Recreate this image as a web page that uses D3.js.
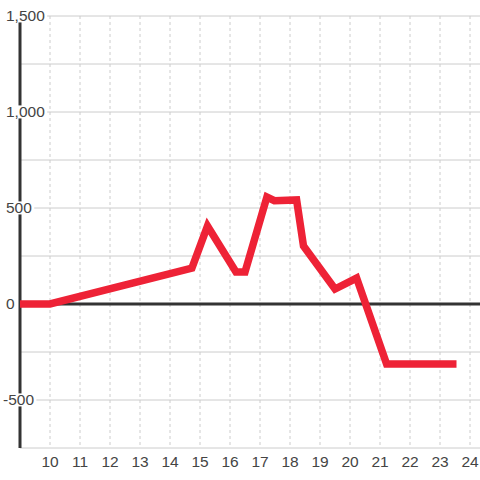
<!DOCTYPE html>
<html><head><meta charset="utf-8">
<script src="https://cdn.jsdelivr.net/npm/d3@7"></script>
<style>body{margin:0;background:#fff}svg{display:block}text{font-family:"Liberation Sans",Arial,sans-serif}</style>
</head><body><svg id="c" width="480" height="480"></svg>
<script>
const hours = [9, 10, 14.73, 15.25, 16.2, 16.5, 17.23, 17.48, 18.22, 18.45, 19.5, 20.22, 21.22, 23.55];
const values = [0, 0, 187, 406, 167, 167, 557, 538, 542, 302, 78, 135, -312, -312];
const yTicks = [-500, 0, 500, 1000, 1500];
const xTicks = [10, 11, 12, 13, 14, 15, 16, 17, 18, 19, 20, 21, 22, 23, 24];

const svg = d3.select("#c");
const x = d3.scaleLinear().domain([9, 24.3333]).range([20, 480]);
const y = d3.scaleLinear().domain([-750, 1500]).range([448, 16]);

svg.append("g").selectAll("line").data(xTicks).join("line")
  .attr("x1", d => x(d)).attr("x2", d => x(d)).attr("y1", y(1500)).attr("y2", y(-750))
  .attr("stroke", "#cccccc").attr("stroke-dasharray", "3,3");
svg.append("g").selectAll("line").data(d3.range(-750, 1501, 250)).join("line")
  .attr("x1", x(9)).attr("x2", 480).attr("y1", d => y(d)).attr("y2", d => y(d))
  .attr("stroke", "#cccccc").attr("stroke-width", 1);
svg.append("line").attr("x1", x(9)).attr("x2", x(9)).attr("y1", y(1500)).attr("y2", y(-750))
  .attr("stroke", "#333").attr("stroke-width", 3);
svg.append("line").attr("x1", x(9)).attr("x2", 480).attr("y1", y(0)).attr("y2", y(0))
  .attr("stroke", "#333").attr("stroke-width", 3);

const fmt = d3.format(",");
const yl = svg.append("g").selectAll("g").data(yTicks).join("g")
  .attr("transform", d => `translate(${d < 0 ? 3 : 6},${y(d)})`);
yl.append("text").attr("dy", "0.35em").attr("font-size", 15.5).attr("fill", "#444")
  .text(d => d < 0 ? "-" + fmt(-d) : fmt(d))
  .each(function () {
    const b = this.getBBox();
    d3.select(this.parentNode).insert("rect", "text")
      .attr("x", b.x - 1).attr("y", b.y + 2).attr("width", b.width + 3).attr("height", b.height - 4)
      .attr("fill", "#fff");
  });

svg.append("g").selectAll("text").data(xTicks).join("text")
  .attr("x", d => x(d)).attr("y", 467).attr("text-anchor", "middle")
  .attr("font-size", 15.5).attr("fill", "#444").text(d => d);

const line = d3.line().x((d, i) => x(hours[i])).y(d => y(d));
svg.append("path").attr("d", line(values)).attr("fill", "none")
  .attr("stroke", "#ee2236").attr("stroke-width", 7.5).attr("stroke-linejoin", "miter");
</script></body></html>
